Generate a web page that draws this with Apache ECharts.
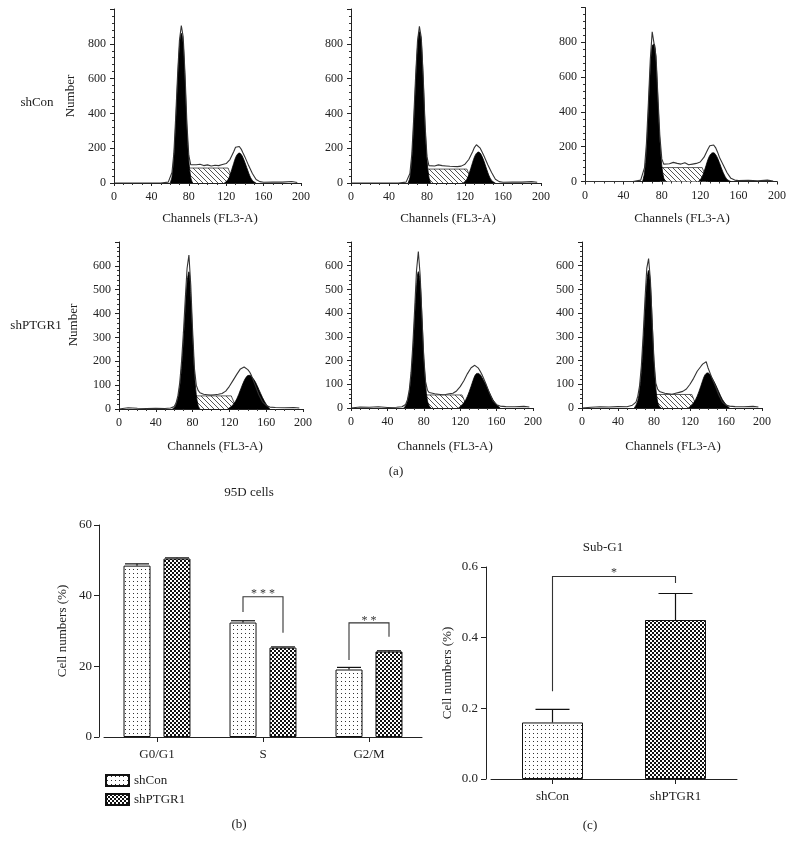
<!DOCTYPE html>
<html><head><meta charset="utf-8">
<script src="https://cdn.jsdelivr.net/npm/echarts@6/dist/echarts.min.js"></script>
<style>html,body{margin:0;padding:0;background:#fff}#c{width:795px;height:848px}</style>
</head><body><div id="c"></div>
<script>
// ================= DATA =================
// Flow cytometry histograms (channel -> count)
const rawXTop = [0,10,20,30,40,50,58,62,64,66,68,70,72,74,76,78,80,82,84,88,92,96,100,104,108,112,116,120,124,128,130,132,134,136,138,140,144,148,152,156,160,170,180,190,196];
const rawTL = [0,0,0,0,0,0,5,60,170,380,620,820,905,840,620,340,160,105,98,105,108,100,104,98,102,100,106,112,135,180,205,215,210,195,172,150,100,55,20,8,4,6,5,9,3];
const rawTM = [0,0,0,0,0,0,5,55,165,370,610,815,900,835,610,330,150,100,95,98,104,100,98,96,95,94,97,108,135,180,205,220,215,200,178,155,105,60,22,8,4,6,5,8,4];
const rawTR = [0,0,0,0,0,0,8,80,220,450,700,860,850,720,480,260,130,100,98,102,110,104,100,108,96,100,104,112,140,185,205,215,210,195,170,140,95,50,18,8,5,7,4,8,3];
const g1XTop = [60,62,64,66,68,70,72,74,76,78,80,82,84];
const g1TL = [0,35,140,340,580,780,860,800,580,310,130,35,0];
const g1TM = [0,30,130,330,570,780,870,810,590,320,130,35,0];
const g1TR = [0,50,170,400,640,780,790,690,460,230,90,20,0];
const sXTop = [78,100,122,128];
const sTL = [86,86,86,0];
const sTM = [80,80,80,0];
const sTR = [80,80,80,0];
const g2XTop = [118,120,122,124,126,128,130,132,134,136,138,140,142,144,146,148,150,152];
const g2TL = [0,8,20,45,78,112,145,165,172,165,145,118,88,58,32,15,6,0];
const g2TM = [0,8,22,48,82,118,150,170,178,172,152,125,92,60,33,15,6,0];
const g2TR = [0,10,28,55,90,125,150,163,165,155,135,108,78,50,28,12,5,0];

const rawXBot = [0,10,20,30,40,50,56,60,62,64,66,68,70,72,74,76,78,80,82,84,86,88,92,96,100,104,108,112,116,120,124,128,132,134,136,138,140,142,144,148,152,156,160,164,170,180,190,196];
const rawBL = [0,5,3,2,3,2,4,10,25,55,110,200,320,460,590,645,520,330,170,100,78,68,62,60,58,60,62,65,75,95,120,145,168,175,176,172,165,155,140,100,60,30,15,8,6,5,6,4];
const rawBM = [0,4,3,5,2,3,5,15,35,75,150,270,420,580,660,560,380,210,110,75,65,62,60,58,56,57,60,62,72,90,115,145,170,178,180,176,168,155,140,105,65,30,14,8,6,5,7,4];
const rawBR = [0,3,5,4,6,5,12,25,50,95,180,310,460,590,630,540,360,200,105,80,70,65,62,60,58,62,66,70,80,100,125,155,175,185,180,195,170,150,130,95,55,25,12,8,6,5,7,4];
const g1XBot = [58,60,62,64,66,68,70,72,74,76,78,80,82,84,86,88];
const g1BL = [0,5,18,45,90,170,280,410,530,575,470,300,150,60,15,0];
const g1BM = [0,10,28,65,130,240,380,510,575,530,380,210,95,30,8,0];
const g1BR = [0,12,32,75,150,270,410,530,580,520,360,190,85,25,6,0];
const sXBot = [82,100,122,128];
const sBL = [55,55,55,0];
const sBM = [55,55,55,0];
const sBR = [57,57,57,0];
const g2XBot = [118,120,124,128,132,134,136,138,140,142,144,148,152,156,160,164];
const g2BL = [0,5,18,42,80,100,118,132,140,141,136,115,82,48,20,0];
const g2BM = [0,6,22,50,92,115,135,145,146,140,128,100,65,35,14,0];
const g2BR = [0,6,22,50,92,115,135,146,148,142,130,102,68,36,15,0];

// (b) cell-cycle phases
const phaseCats = ['G0/G1', 'S', 'G2/M'];
const shConPhase = [48.5, 32.4, 19.1];
const shConPhaseErr = [49.0, 32.9, 19.7];
const shPTGR1Phase = [50.5, 25.3, 24.2];
const shPTGR1PhaseErr = [50.7, 25.5, 24.4];
const sigCat = [1, 2];
const sigLeftBottom = [35.4, 21.8];
const sigTop = [39.7, 32.3];
const sigRightBottom = [29.5, 28.4];
const sigText = ['***', '**'];
const sigTextY = [40.5, 32.8];

// (c) Sub-G1
const subCats = ['shCon', 'shPTGR1'];
const subVals = [0.16, 0.45];
const subErr = [0.197, 0.525];
const subSigLeftBottom = 0.248, subSigTop = 0.573, subSigRightBottom = 0.555, subSigTextY = 0.584;
const subSigText = '*';

// ================= STYLE / LAYOUT =================
const FONT = '"Liberation Serif", "Times New Roman", serif';
const TXT = '#222';
function makePattern(size, draw) {
  const cv = document.createElement('canvas');
  cv.width = size; cv.height = size;
  const ctx = cv.getContext('2d');
  ctx.fillStyle = '#fff'; ctx.fillRect(0, 0, size, size);
  draw(ctx);
  return { image: cv, repeat: 'repeat' };
}
const hatch = makePattern(5, c => { c.fillStyle = '#555'; for (let i = 0; i < 5; i++) c.fillRect(i, i, 1, 1); });
const dots = makePattern(4, c => { c.fillStyle = '#333'; c.fillRect(1, 1, 1, 1); });
const checker = makePattern(4, c => { c.fillStyle = '#111'; c.fillRect(0, 0, 2, 2); c.fillRect(2, 2, 2, 2); });

const hists = [
  { x: rawXTop, raw: rawTL, g1x: g1XTop, g1: g1TL, sx: sXTop, s: sTL, g2x: g2XTop, g2: g2TL, ymax: 1000, yint: 200 },
  { x: rawXTop, raw: rawTM, g1x: g1XTop, g1: g1TM, sx: sXTop, s: sTM, g2x: g2XTop, g2: g2TM, ymax: 1000, yint: 200 },
  { x: rawXTop, raw: rawTR, g1x: g1XTop, g1: g1TR, sx: sXTop, s: sTR, g2x: g2XTop, g2: g2TR, ymax: 1000, yint: 200 },
  { x: rawXBot, raw: rawBL, g1x: g1XBot, g1: g1BL, sx: sXBot, s: sBL, g2x: g2XBot, g2: g2BL, ymax: 700, yint: 100 },
  { x: rawXBot, raw: rawBM, g1x: g1XBot, g1: g1BM, sx: sXBot, s: sBM, g2x: g2XBot, g2: g2BM, ymax: 700, yint: 100 },
  { x: rawXBot, raw: rawBR, g1x: g1XBot, g1: g1BR, sx: sXBot, s: sBR, g2x: g2XBot, g2: g2BR, ymax: 700, yint: 100 }
];
const histGrids = [
  { left: 114, top: 9, width: 187, height: 174 },
  { left: 351, top: 9, width: 190, height: 174 },
  { left: 585, top: 7.5, width: 192, height: 174 },
  { left: 119, top: 242, width: 184, height: 167 },
  { left: 351, top: 242, width: 182, height: 166 },
  { left: 582, top: 242, width: 180, height: 166 }
];
const gridB = { left: 104, top: 525, width: 318, height: 212 };
const gridC = { left: 491, top: 567, width: 246, height: 212 };

const pairs = (xs, ys) => xs.map((x, i) => [x, ys[i]]);
const axisLine = { show: true, onZero: false, lineStyle: { color: '#222', width: 1 } };
const lbl = { fontFamily: FONT, fontSize: 12, color: TXT };

const grid = [], xAxis = [], yAxis = [], series = [];
hists.forEach((h, i) => {
  grid.push(Object.assign({ containLabel: false }, histGrids[i]));
  xAxis.push({ gridIndex: i, type: 'value', min: 0, max: 200, interval: 40,
    axisLine, axisTick: { show: true, length: 3, lineStyle: { color: '#222' } },
    minorTick: { show: true, splitNumber: 4, length: 2, lineStyle: { color: '#333' } },
    splitLine: { show: false }, axisLabel: Object.assign({ margin: 8 }, lbl) });
  yAxis.push({ gridIndex: i, type: 'value', min: 0, max: h.ymax, interval: h.yint,
    axisLine, axisTick: { show: true, length: 4, lineStyle: { color: '#222' } },
    minorTick: { show: true, splitNumber: 5, length: 2, lineStyle: { color: '#333' } },
    splitLine: { show: false },
    axisLabel: Object.assign({ margin: 8, formatter: v => (v === h.ymax ? '' : String(v)) }, lbl) });
  const common = { type: 'line', xAxisIndex: i, yAxisIndex: i, symbol: 'none', silent: true };
  series.push(Object.assign({}, common, { data: pairs(h.sx, h.s), lineStyle: { color: '#333', width: 0.8 }, areaStyle: { color: hatch, opacity: 1 }, z: 2 }));
  series.push(Object.assign({}, common, { data: pairs(h.g1x, h.g1), smooth: 0.35, lineStyle: { color: '#000', width: 0.8 }, areaStyle: { color: '#000', opacity: 1 }, z: 3 }));
  series.push(Object.assign({}, common, { data: pairs(h.g2x, h.g2), smooth: 0.35, lineStyle: { color: '#000', width: 0.8 }, areaStyle: { color: '#000', opacity: 1 }, z: 3 }));
  series.push(Object.assign({}, common, { data: pairs(h.x, h.raw), lineStyle: { color: '#333', width: 1.1 }, z: 4 }));
});

// (b)
grid.push(gridB);
xAxis.push({ gridIndex: 6, type: 'category', data: phaseCats, axisLine,
  axisTick: { show: true, alignWithLabel: true, length: 5, lineStyle: { color: '#222' } },
  axisLabel: Object.assign({ margin: 11 }, lbl, { fontSize: 13 }) });
yAxis.push({ gridIndex: 6, type: 'value', min: 0, max: 60, interval: 20, offset: 5, axisLine,
  axisTick: { show: true, length: 5, lineStyle: { color: '#222' } }, splitLine: { show: false },
  axisLabel: Object.assign({ margin: 7 }, lbl, { fontSize: 13 }) });
// (c)
grid.push(gridC);
xAxis.push({ gridIndex: 7, type: 'category', data: subCats, axisLine,
  axisTick: { show: true, alignWithLabel: true, length: 5, lineStyle: { color: '#222' } },
  axisLabel: Object.assign({ margin: 11 }, lbl, { fontSize: 13 }) });
yAxis.push({ gridIndex: 7, type: 'value', min: 0, max: 0.6, interval: 0.2, offset: 5, axisLine,
  axisTick: { show: true, length: 5, lineStyle: { color: '#222' } }, splitLine: { show: false },
  axisLabel: Object.assign({ margin: 8, formatter: v => v.toFixed(1) }, lbl, { fontSize: 13 }) });

const barBorder = { borderColor: '#111', borderWidth: 1 };
series.push({ type: 'bar', name: 'shCon', xAxisIndex: 6, yAxisIndex: 6, data: shConPhase, barWidth: 27, barGap: '48%',
  itemStyle: Object.assign({ color: dots }, barBorder), silent: true, z: 2 });
series.push({ type: 'bar', name: 'shPTGR1', xAxisIndex: 6, yAxisIndex: 6, data: shPTGR1Phase, barWidth: 27, barGap: '48%',
  itemStyle: Object.assign({ color: checker }, barBorder), silent: true, z: 2 });
series.push({ type: 'bar', xAxisIndex: 7, yAxisIndex: 7, barWidth: 61, silent: true, z: 2,
  data: subVals.map((v, i) => ({ value: v, itemStyle: Object.assign({ color: i === 0 ? dots : checker }, barBorder) })) });

// error bars
function errRender(offset, cap) {
  return function (params, api) {
    const side = api.value(1);
    const b = api.coord([api.value(0), api.value(2)]);
    const t = api.coord([api.value(0), api.value(3)]);
    const x = b[0] + side * offset;
    const st = { stroke: '#111', lineWidth: 1.2 };
    return { type: 'group', children: [
      { type: 'line', shape: { x1: x, y1: b[1], x2: x, y2: t[1] }, style: st },
      { type: 'line', shape: { x1: x - cap / 2, y1: t[1], x2: x + cap / 2, y2: t[1] }, style: st } ] };
  };
}
const errB = [];
phaseCats.forEach((c, i) => { errB.push([i, -1, shConPhase[i], shConPhaseErr[i]]); errB.push([i, 1, shPTGR1Phase[i], shPTGR1PhaseErr[i]]); });
series.push({ type: 'custom', xAxisIndex: 6, yAxisIndex: 6, data: errB, encode: { x: 0, y: [2, 3] }, renderItem: errRender(20, 24), z: 5, silent: true });
series.push({ type: 'custom', xAxisIndex: 7, yAxisIndex: 7, data: subVals.map((v, i) => [i, 0, v, subErr[i]]), encode: { x: 0, y: [2, 3] }, renderItem: errRender(0, 34), z: 5, silent: true });

// significance brackets
function sigRender(offset, texts) {
  return function (params, api) {
    const xl = api.value(0), xr = api.value(1);
    const p1 = api.coord([xl, api.value(2)]), p2 = api.coord([xl, api.value(3)]);
    const p3 = api.coord([xr, api.value(3)]), p4 = api.coord([xr, api.value(4)]);
    const ty = api.coord([xl, api.value(5)])[1];
    const a = p1[0] - offset, bx = p3[0] + offset;
    return { type: 'group', children: [
      { type: 'polyline', shape: { points: [[a, p1[1]], [a, p2[1]], [bx, p3[1]], [bx, p4[1]]] }, style: { stroke: '#333', lineWidth: 1.1, fill: null } },
      { type: 'text', x: (a + bx) / 2, y: ty, style: { text: texts[params.dataIndex].split('').join(' '), align: 'center', verticalAlign: 'middle', textAlign: 'center', textVerticalAlign: 'middle', font: '12px ' + FONT, fill: '#333' } } ] };
  };
}
series.push({ type: 'custom', xAxisIndex: 6, yAxisIndex: 6, silent: true, z: 6,
  data: sigCat.map((c, i) => [c, c, sigLeftBottom[i], sigTop[i], sigRightBottom[i], sigTextY[i]]),
  encode: { x: [0, 1], y: [2, 3, 4] }, renderItem: sigRender(20, sigText) });
series.push({ type: 'custom', xAxisIndex: 7, yAxisIndex: 7, silent: true, z: 6,
  data: [[0, 1, subSigLeftBottom, subSigTop, subSigRightBottom, subSigTextY]],
  encode: { x: [0, 1], y: [2, 3, 4] }, renderItem: sigRender(0, [subSigText]) });

// texts
function t(text, x, y, size, rot) {
  return { type: 'text', x, y, rotation: rot || 0, silent: true,
    style: { text, fill: TXT, font: size + 'px ' + FONT, align: 'center', verticalAlign: 'middle', textAlign: 'center', textVerticalAlign: 'middle' } };
}
const graphic = [
  t('shCon', 37, 103, 13), t('shPTGR1', 36, 326, 13),
  t('Number', 71, 96, 13, Math.PI / 2), t('Number', 74, 325, 13, Math.PI / 2),
  t('Channels (FL3-A)', 210, 219, 13), t('Channels (FL3-A)', 448, 219, 13), t('Channels (FL3-A)', 682, 219, 13),
  t('Channels (FL3-A)', 215, 447, 13), t('Channels (FL3-A)', 445, 447, 13), t('Channels (FL3-A)', 673, 447, 13),
  t('(a)', 396, 472, 13), t('95D cells', 249, 493, 13), t('Sub-G1', 603, 548, 13),
  t('Cell numbers (%)', 63, 631, 13, Math.PI / 2), t('Cell numbers (%)', 448, 673, 13, Math.PI / 2),
  t('(b)', 239, 825, 13), t('(c)', 590, 826, 13)
];

const chart = echarts.init(document.getElementById('c'), null, { renderer: 'canvas' });
chart.setOption({
  animation: false,
  backgroundColor: '#fff',
  textStyle: { fontFamily: FONT },
  grid, xAxis, yAxis, series, graphic,
  legend: { data: ['shCon', 'shPTGR1'], orient: 'vertical', left: 100, top: 769, icon: 'rect',
    itemWidth: 23, itemHeight: 11, itemGap: 6, selectedMode: false,
    textStyle: { fontFamily: FONT, fontSize: 13, color: TXT } }
});
</script></body></html>
